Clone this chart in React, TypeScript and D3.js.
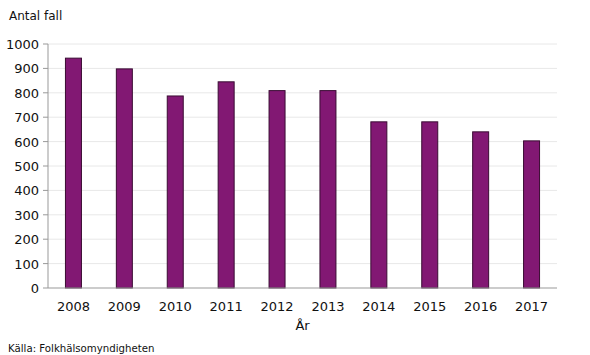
import React from "react";
import * as d3 from "d3";

const years = ["2008", "2009", "2010", "2011", "2012", "2013", "2014", "2015", "2016", "2017"];
const cases = [942, 898, 787, 845, 809, 809, 681, 681, 640, 603];
const yTicks = [0, 100, 200, 300, 400, 500, 600, 700, 800, 900, 1000];

const W = 590, H = 355;
const left = 48, right = 557, top = 44, bottom = 288;
const font = "Verdana, 'DejaVu Sans', sans-serif";

export default function App() {
  const x = d3.scaleBand<string>().domain(years).range([left, right]).paddingInner(0).paddingOuter(0);
  const y = d3.scaleLinear().domain([0, 1000]).range([bottom, top]);
  const bw = 16;
  return (
    <svg width={W} height={H} style={{ position: "absolute", left: 0, top: 0, background: "#fff" }}>
      <text x={9} y={20} fontFamily={font} fontSize={12} fill="#111">Antal fall</text>
      {yTicks.map((t) => (
        <g key={t}>
          {t > 0 && <line x1={left} x2={right} y1={y(t)} y2={y(t)} stroke="#e8e8e8" strokeWidth={1} />}
          <line x1={left - 5} x2={left} y1={y(t)} y2={y(t)} stroke="#999" />
          <text x={left - 9} y={y(t) + 5} textAnchor="end" fontFamily={font} fontSize={13} fill="#111">{t}</text>
        </g>
      ))}
      {years.map((yr, i) => {
        const cx = x(yr)! + x.bandwidth() / 2;
        return (
          <g key={yr}>
            <rect x={cx - bw / 2} y={y(cases[i])} width={bw} height={bottom - y(cases[i])} fill="#821873" stroke="#3a0c33" strokeWidth={1} />
            <text x={cx} y={bottom + 23} textAnchor="middle" fontFamily={font} fontSize={13} fill="#111">{yr}</text>
          </g>
        );
      })}
      <line x1={left} x2={left} y1={top} y2={bottom} stroke="#999" />
      <line x1={left} x2={right} y1={bottom} y2={bottom} stroke="#999" />
      <text x={(left + right) / 2} y={330} textAnchor="middle" fontFamily={font} fontSize={13} fill="#111">År</text>
      <text x={8} y={352} fontFamily={font} fontSize={10.2} fill="#111">Källa: Folkhälsomyndigheten</text>
    </svg>
  );
}
